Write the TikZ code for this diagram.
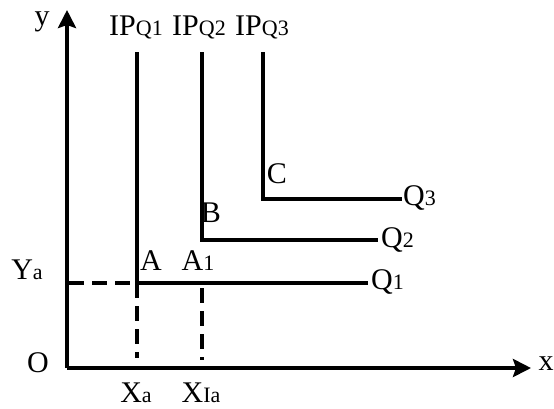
\documentclass[tikz,border=0pt]{standalone}
\usepackage{fontspec}
\setmainfont{Liberation Serif}
\usetikzlibrary{arrows.meta}
\newcommand{\sm}[1]{{\fontsize{22}{24}\selectfont #1}}
\begin{document}
\begin{tikzpicture}[x=1pt,y=-1pt,
  axis/.style={line width=4.5pt,-{Stealth[length=18pt,width=18pt,inset=3pt]}},
  curve/.style={line width=3.5pt,line join=miter},
  guide/.style={line width=3.5pt,dash pattern=on 15pt off 8pt},
  lbl/.style={inner sep=0pt,font=\fontsize{30}{34}\selectfont}]
\useasboundingbox (0,0) rectangle (554,408);
% axes
\coordinate (O) at (67,368);
\coordinate (ytip) at (67,10);
\coordinate (xtip) at (531,368);
\draw[axis] (O) -- (ytip);
\draw[axis] (O) -- (xtip);
% curves
\coordinate (t1) at (137,52);
\coordinate (a) at (137,283);
\coordinate (e1) at (368,283);
\coordinate (t2) at (202,52);
\coordinate (b) at (202,240);
\coordinate (e2) at (378,240);
\coordinate (t3) at (263,52);
\coordinate (c) at (263,199);
\coordinate (e3) at (402,199);
\draw[curve] (t1) -- (a) -- (e1);
\draw[curve] (t2) -- (b) -- (e2);
\draw[curve] (t3) -- (c) -- (e3);
% guides
\coordinate (ya) at (69,283);
\coordinate (xa) at (137,358);
\coordinate (a1) at (202,288);
\coordinate (xia) at (202,360);
\draw[guide] (ya) -- (a);
\draw[guide] (a) -- (xa);
\draw[guide] (a1) -- (xia);
% labels
\node[lbl] (ylab) at (42,22) {y};
\node[lbl] (xlab) at (546,364) {x};
\node[lbl] (olab) at (38,363) {O};
\node[lbl,anchor=base] (ip1) at (136,35) {IP\sm{Q1}};
\node[lbl,anchor=base] (ip2) at (199,35) {IP\sm{Q2}};
\node[lbl,anchor=base] (ip3) at (262,35) {IP\sm{Q3}};
\node[lbl,anchor=west] (q1) at (371,282) {Q\sm{1}};
\node[lbl,anchor=west] (q2) at (381,240) {Q\sm{2}};
\node[lbl,anchor=west] (q3) at (403,198) {Q\sm{3}};
\node[lbl] (clab) at (277,174) {C};
\node[lbl] (blab) at (211,213) {B};
\node[lbl] (alab) at (151,261) {A};
\node[lbl] (a1lab) at (198,261) {A\sm{1}};
\node[lbl] (yalab) at (27,270) {Y\sm{a}};
\node[lbl] (xalab) at (136,393) {X\sm{a}};
\node[lbl] (xialab) at (201,393) {X\sm{Ia}};
\end{tikzpicture}
\end{document}
